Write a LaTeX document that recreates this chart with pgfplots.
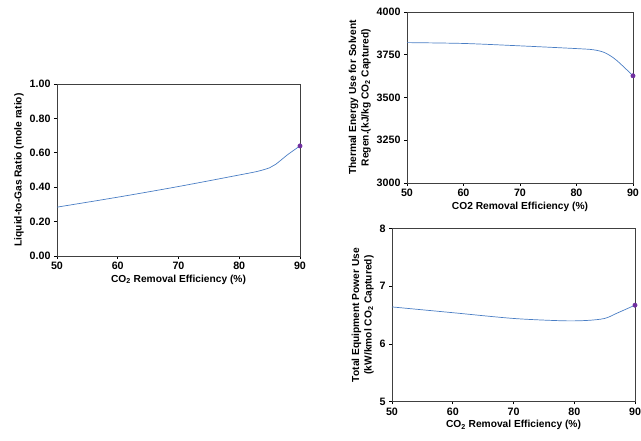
\documentclass[border=0pt]{standalone}
\usepackage{pgfplots}
\pgfplotsset{compat=1.18}
\usepackage{fontspec}
\setmainfont{Liberation Sans}
\definecolor{lineblue}{HTML}{4A7EC4}
\definecolor{dotpurple}{HTML}{7030A0}
\pgfplotsset{
  every axis/.append style={
    scale only axis,
    anchor=south west,
    xmin=50, xmax=90,
    xtick={50,60,70,80,90},
    axis line style={black!75, line width=0.7pt},
    tick style={black, line width=0.6pt},
    tick align=outside,
    major tick length=3pt,
    xtick pos=bottom, ytick pos=left,
    ticklabel style={font=\fontsize{10.7}{11.5}\selectfont\bfseries},
    label style={font=\fontsize{10.2}{11}\selectfont\bfseries},
    /pgf/number format/assume math mode=true,
    clip=false,
  },
}
\begin{document}
\begin{tikzpicture}
\path[use as bounding box] (0,0) rectangle (641pt,441pt);

% Left panel
\begin{axis}[
  at={(57pt,185pt)}, width=243pt, height=172pt,
  ymin=0, ymax=1, ytick={0,0.2,0.4,0.6,0.8,1.0},
  yticklabel style={/pgf/number format/.cd, fixed, fixed zerofill, precision=2},
  xlabel={CO\textsubscript{2} Removal Efficiency (\%)},
  ylabel={Liquid-to-Gas Ratio (mole ratio)},
  xlabel style={yshift=2pt},
  ylabel style={yshift=-1pt},
]
\addplot[lineblue, line width=0.7pt, smooth] coordinates {
(50,0.284) (60,0.342) (70,0.404) (80,0.471) (83,0.492) (85,0.513) (86,0.533) (88,0.59) (90,0.64)};
\addplot[only marks, mark=*, mark size=2.2pt, dotpurple] coordinates {(90,0.64)};
\end{axis}

% Top right panel
\begin{axis}[
  at={(407pt,258pt)}, width=226pt, height=171pt,
  ymin=3000, ymax=4000, ytick={3000,3250,3500,3750,4000},
  yticklabel style={/pgf/number format/.cd, 1000 sep={}},
  xlabel={CO2 Removal Efficiency (\%)},
  ylabel={\shortstack{Thermal Energy Use for Solvent\\Regen.(kJ/kg CO\textsubscript{2} Captured)}},
  xlabel style={yshift=2pt},
  ylabel style={yshift=-1pt},
]
\addplot[lineblue, line width=0.7pt, smooth] coordinates {
(50,3821) (60,3816) (70,3802) (80,3786) (83,3779) (85,3762) (87,3720) (90,3627)};
\addplot[only marks, mark=*, mark size=2.2pt, dotpurple] coordinates {(90,3627)};
\end{axis}

% Bottom right panel
\begin{axis}[
  at={(392pt,39.5pt)}, width=243pt, height=173pt,
  ymin=5, ymax=8, ytick={5,6,7,8},
  xlabel={CO\textsubscript{2} Removal Efficiency (\%)},
  ylabel={\shortstack{Total Equipment Power Use\\(kW/kmol CO\textsubscript{2} Captured)}},
  xlabel style={yshift=2pt},
  ylabel style={yshift=-1pt},
]
\addplot[lineblue, line width=0.7pt, smooth] coordinates {
(50,6.64) (60,6.54) (70,6.44) (78,6.40) (82,6.405) (85,6.44) (87,6.53) (90,6.67)};
\addplot[only marks, mark=*, mark size=2.2pt, dotpurple] coordinates {(90,6.67)};
\end{axis}
\end{tikzpicture}
\end{document}
